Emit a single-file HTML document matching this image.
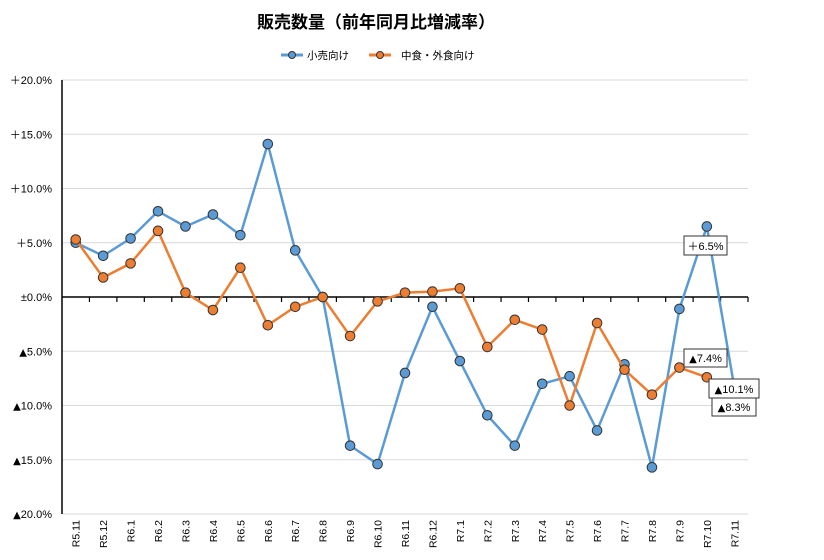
<!DOCTYPE html>
<html><head><meta charset="utf-8"><style>
body{margin:0;background:#fff;}
svg{display:block;font-family:"Liberation Sans","Noto Sans CJK JP",sans-serif;}
.tri{font-family:"DejaVu Sans",sans-serif;font-size:10px;}
</style></head><body>
<svg id="c" width="824" height="560" xmlns="http://www.w3.org/2000/svg">
<rect width="824" height="560" fill="#fff"/>
<text x="376" y="28" font-size="17" text-anchor="middle" fill="#000" font-weight="bold">販売数量（前年同月比増減率）</text>
<line x1="281" y1="55" x2="303" y2="55" stroke="#5b9bd5" stroke-width="3"/>
<circle cx="292" cy="55" r="3.5" fill="#5b9bd5" stroke="#333" stroke-width="1"/>
<text x="307" y="59" font-size="10.5">小売向け</text>
<line x1="369" y1="55" x2="391" y2="55" stroke="#ed7d31" stroke-width="3"/>
<circle cx="380" cy="55" r="3.5" fill="#ed7d31" stroke="#333" stroke-width="1"/>
<text x="401" y="59" font-size="10.5">中食・外食向け</text>
<g id="grid"></g>
<g id="axes"></g>
<g id="series"></g>
<g font-size="11">
<rect x="684" y="236" width="43" height="19" fill="#fff" stroke="#333"/>
<text x="705.5" y="250" text-anchor="middle">＋6.5%</text>
<rect x="684" y="349" width="43" height="18" fill="#fff" stroke="#333"/>
<text x="705.5" y="362" text-anchor="middle"><tspan class="tri">▲</tspan>7.4%</text>
<rect x="709" y="379" width="50" height="19" fill="#fff" stroke="#333"/>
<text x="734" y="393" text-anchor="middle"><tspan class="tri">▲</tspan>10.1%</text>
<rect x="712" y="398" width="44" height="18" fill="#fff" stroke="#333"/>
<text x="734" y="411" text-anchor="middle"><tspan class="tri">▲</tspan>8.3%</text>
</g>
</svg>
<script>
const NS="http://www.w3.org/2000/svg";
function el(p,t,a,txt){const e=document.createElementNS(NS,t);for(const k in a)e.setAttribute(k,a[k]);if(txt!=null)e.textContent=txt;p.appendChild(e);return e;}
const x0=62,x1=748,n=25,w=(x1-x0)/n;
const Y=v=>297-v*10.85;
const X=i=>x0+w*(i+0.5);
const g=document.getElementById('grid'),ax=document.getElementById('axes'),s=document.getElementById('series');
const ylab={20:"＋20.0%",15:"＋15.0%",10:"＋10.0%",5:"＋5.0%",0:"±0.0%","-5":"5.0%","-10":"10.0%","-15":"15.0%","-20":"20.0%"};
for(let v=-20;v<=20;v+=5){
 if(v!==0)el(g,'line',{x1:x0,x2:x1,y1:Y(v),y2:Y(v),stroke:'#d9d9d9','stroke-width':1});
 const t=el(g,'text',{x:52,y:Y(v)+4,'font-size':11,'text-anchor':'end'});
 if(v<0){const ts=el(t,'tspan',{class:'tri'},"▲");}
 t.appendChild(document.createTextNode(ylab[v]));
}
el(ax,'line',{x1:x0,x2:x0,y1:Y(20),y2:Y(-20),stroke:'#000','stroke-width':1.5});
el(ax,'line',{x1:x0,x2:x1,y1:297,y2:297,stroke:'#000','stroke-width':1.5});
for(let k=1;k<=n;k++){const x=x0+w*k;el(ax,'line',{x1:x,x2:x,y1:297,y2:302,stroke:'#000','stroke-width':1.2});}
const cats=["R5.11","R5.12"];for(let m=1;m<=12;m++)cats.push("R6."+m);for(let m=1;m<=11;m++)cats.push("R7."+m);
cats.forEach((c,i)=>{el(ax,'text',{x:0,y:0,'font-size':10.5,'text-anchor':'end',transform:`translate(${X(i)+4},520) rotate(-90)`},c);});
const blue=[5.0,3.8,5.4,7.9,6.5,7.6,5.7,14.1,4.3,0,-13.7,-15.4,-7.0,-0.9,-5.9,-10.9,-13.7,-8.0,-7.3,-12.3,-6.2,-15.7,-1.1,6.5,-8.3];
const orange=[5.3,1.8,3.1,6.1,0.4,-1.2,2.7,-2.6,-0.9,0,-3.6,-0.4,0.4,0.5,0.8,-4.6,-2.1,-3.0,-10.0,-2.4,-6.7,-9.0,-6.5,-7.4];
function draw(d,col){
 el(s,'polyline',{points:d.map((v,i)=>X(i)+','+Y(v)).join(' '),fill:'none',stroke:col,'stroke-width':2.5,'stroke-linejoin':'round'});
 d.forEach((v,i)=>el(s,'circle',{cx:X(i),cy:Y(v),r:4.8,fill:col,stroke:'#333','stroke-width':1}));
}
draw(blue,'#5b9bd5');draw(orange,'#ed7d31');
</script>
</body></html>
